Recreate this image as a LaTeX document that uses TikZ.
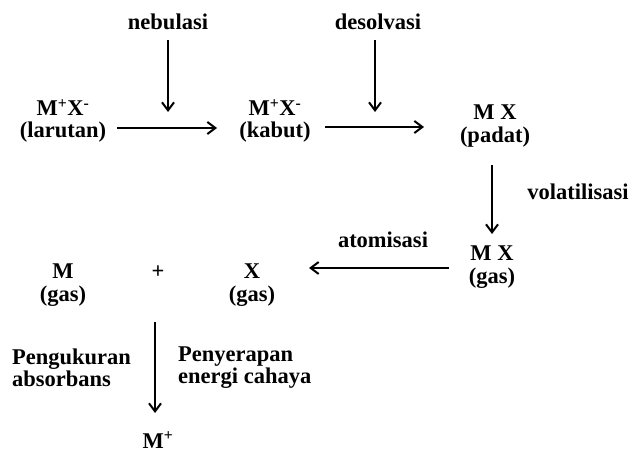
\documentclass[tikz,border=0pt]{standalone}
\usepackage{fontspec}
\setmainfont{Liberation Serif}
\usetikzlibrary{arrows.meta}
\begin{document}
\begin{tikzpicture}[x=1pt,y=-1pt,
  lbl/.style={font=\fontsize{22.5}{24}\selectfont\bfseries, align=center, inner sep=0pt},
  arr/.style={line width=2pt, -{Straight Barb[length=8pt,width=12pt,line width=2pt]}}]
\useasboundingbox (0,0) rectangle (634,454);
% top labels
\node[lbl] (neb) at (168,22) {nebulasi};
\node[lbl] (des) at (378,22) {desolvasi};
% species
\node[lbl, align=center] (lar) at (63,121) {M\textsuperscript{+}X\textsuperscript{-}\\[-2pt](larutan)};
\node[lbl] (kab) at (275,121) {M\textsuperscript{+}X\textsuperscript{-}\\[-2pt](kabut)};
\node[lbl] (pad) at (495,126) {M X\\[-1pt](padat)};
\node[lbl] (vol) at (578,192) {volatilisasi};
\node[lbl] (mxg) at (492,267) {M X\\[-1pt](gas)};
\node[lbl] (ato) at (383,240) {atomisasi};
\node[lbl] (mg) at (63,285) {M\\[-1pt](gas)};
\node[lbl] (plus) at (158,272) {+};
\node[lbl] (xg) at (252,285) {X\\[-1pt](gas)};
\node[lbl, align=left, anchor=west] (pen) at (12,368) {Pengukuran\\[-2pt]absorbans};
\node[lbl, align=left, anchor=west] (pny) at (178,368) {Penyerapan\\[-2pt]energi cahaya};
\node[lbl] (mp) at (158,440) {M\textsuperscript{+}};
% coordinates
\coordinate (a1s) at (117,128); \coordinate (a1e) at (217,128);
\coordinate (a2s) at (325,127); \coordinate (a2e) at (424,127);
\coordinate (n1s) at (168,40); \coordinate (n1e) at (168,112);
\coordinate (d1s) at (375,40); \coordinate (d1e) at (375,112);
\coordinate (v1s) at (492,165); \coordinate (v1e) at (492,234);
\coordinate (t1s) at (449,268); \coordinate (t1e) at (309,268);
\coordinate (m1s) at (155,322); \coordinate (m1e) at (155,413);
\draw[arr] (a1s) -- (a1e);
\draw[arr] (a2s) -- (a2e);
\draw[arr] (n1s) -- (n1e);
\draw[arr] (d1s) -- (d1e);
\draw[arr] (v1s) -- (v1e);
\draw[arr] (t1s) -- (t1e);
\draw[arr] (m1s) -- (m1e);
\end{tikzpicture}
\end{document}
